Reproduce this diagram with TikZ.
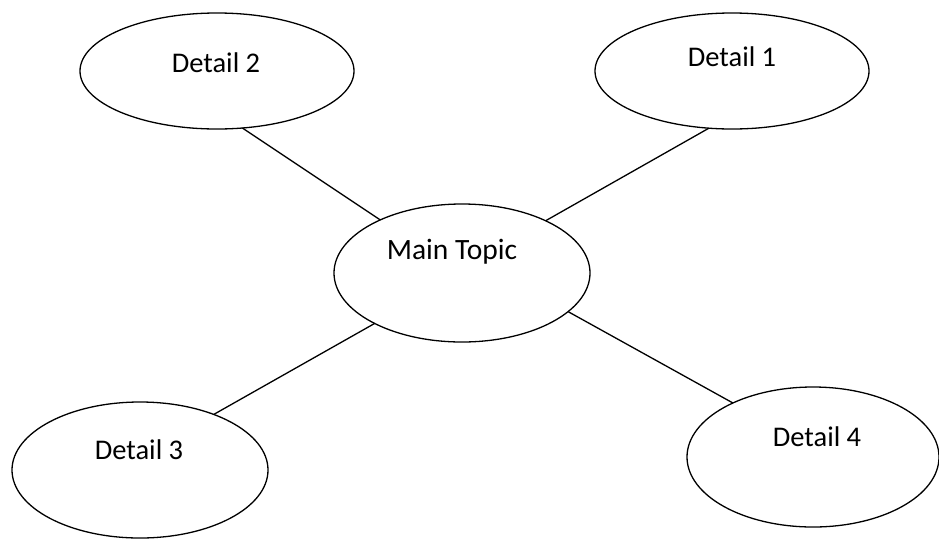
\documentclass[tikz,border=0pt]{standalone}
\usepackage{fontspec}
\setmainfont{Carlito}
\usetikzlibrary{shapes.geometric}
\begin{document}
\begin{tikzpicture}[x=1pt,y=-1pt,
  bubble/.style={draw=black,line width=1.3pt,ellipse,inner sep=0pt,outer sep=0pt},
  lbl/.style={inner sep=0pt,font=\fontsize{28.5}{33}\selectfont},
  conn/.style={draw=black,line width=1.3pt}]
\useasboundingbox (0,0) rectangle (939,539);
\node[bubble,minimum width=256pt,minimum height=138pt] (m) at (462,273) {};
\node[bubble,minimum width=274pt,minimum height=116pt] (d2) at (217,71) {};
\node[bubble,minimum width=274pt,minimum height=116pt] (d1) at (732,71) {};
\node[bubble,minimum width=256pt,minimum height=136pt] (d3) at (140,470) {};
\node[bubble,minimum width=252pt,minimum height=140pt] (d4) at (813,457) {};
\node[lbl,font=\fontsize{29.5}{34}\selectfont] (tm) at (452,252) {Main Topic};
\node[lbl] (t2) at (216,63) {Detail 2};
\node[lbl] (t1) at (732,57) {Detail 1};
\node[lbl] (t3) at (139,450) {Detail 3};
\node[lbl] (t4) at (817,437) {Detail 4};
\draw[conn] (d2.-66.7) -- (m.147);
\draw[conn] (d1.-112.5) -- (m.32);
\draw[conn] (d3.37.3) -- (m.-150);
\draw[conn] (d4.146) -- (m.-20.7);
\end{tikzpicture}
\end{document}
